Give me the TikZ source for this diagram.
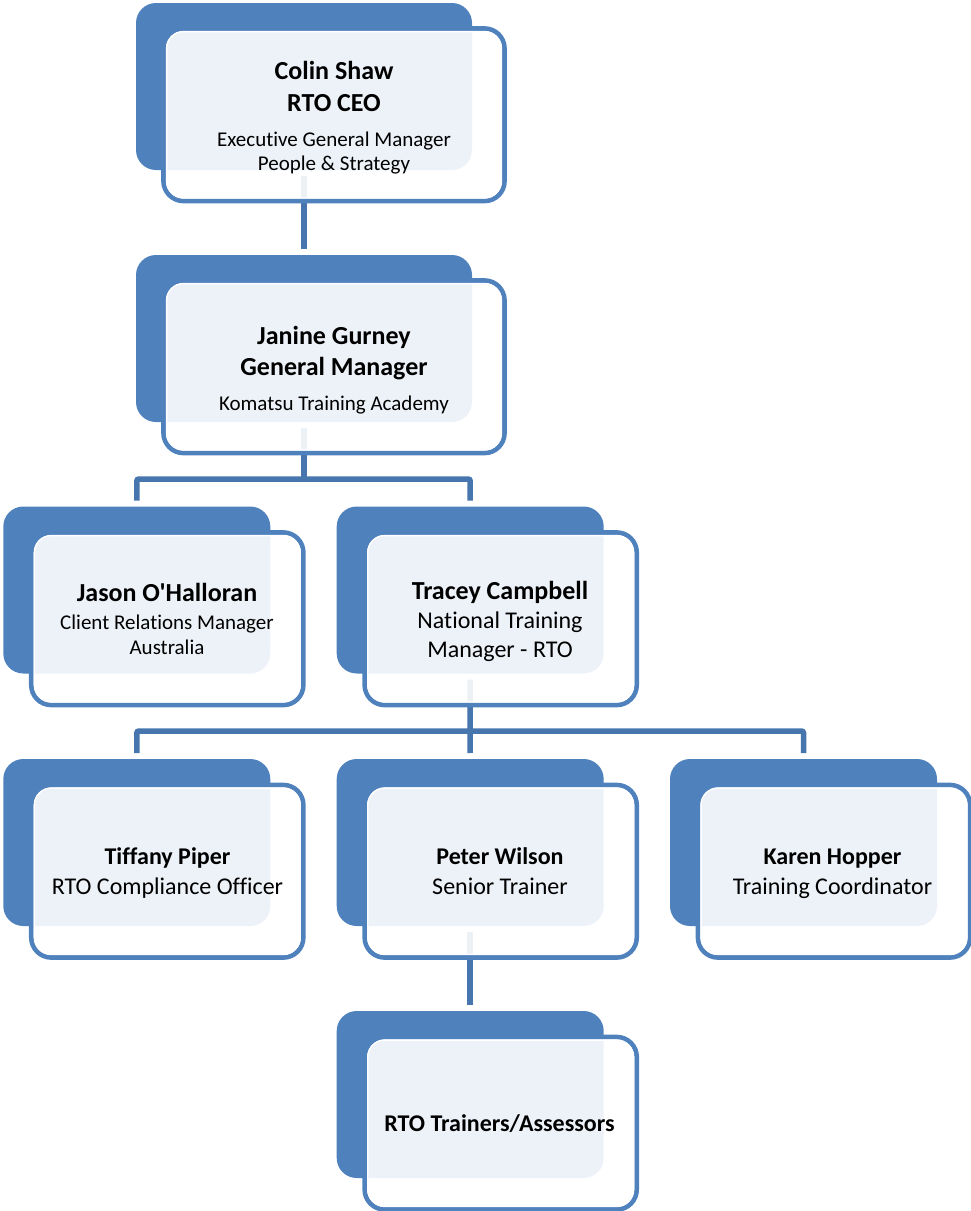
\documentclass[tikz,border=0pt]{standalone}
\usepackage{fontspec}
\setmainfont{Carlito}[Ligatures={TeXOff,NoCommon}]
\definecolor{boxblue}{RGB}{79,129,189}
\definecolor{connblue}{RGB}{71,117,173}
\tikzset{
  backbox/.style={fill=boxblue, draw=none, rounded corners=20pt, anchor=north west,
    minimum height=167pt, inner sep=0pt, outer sep=0pt},
  frontbox/.style={fill=white, fill opacity=0.9, draw=boxblue, line width=4.7pt,
    rounded corners=20pt, anchor=north west, minimum height=172.5pt, inner sep=0pt, outer sep=0pt},
  innerline/.style={draw=white, line width=1.4pt, rounded corners=17pt},
  conn/.style={draw=connblue, line width=5.5pt, rounded corners=2pt},
  nameA/.style={font=\fontsize{26}{31}\selectfont\bfseries, anchor=base, inner sep=0pt},
  nameB/.style={font=\fontsize{24}{29}\selectfont\bfseries, anchor=base, inner sep=0pt},
  roleA/.style={font=\fontsize{21}{25}\selectfont, anchor=base, inner sep=0pt},
  roleB/.style={font=\fontsize{24}{29}\selectfont, anchor=base, inner sep=0pt},
}
\begin{document}
\begin{tikzpicture}[x=1pt,y=-1pt]
\useasboundingbox (0,0) rectangle (970,1211);
% junction coordinates
\coordinate (j2) at (304,479);
\coordinate (j3) at (470,731);
% back boxes
\path
  (136,3)      node[backbox, minimum width=336pt] (b1) {}
  (136,255)    node[backbox, minimum width=336pt] (b2) {}
  (3.3,506.5)  node[backbox, minimum width=267pt] (b3) {}
  (336.7,506.5) node[backbox, minimum width=267pt] (b4) {}
  (3.3,759)    node[backbox, minimum width=267pt] (b5) {}
  (336.7,759)  node[backbox, minimum width=267pt] (b6) {}
  (670,759)    node[backbox, minimum width=267pt] (b7) {}
  (336.7,1011) node[backbox, minimum width=267pt] (b8) {};
% connectors
\draw[conn] ([yshift=-6pt]b1.south) -- ([yshift=6pt]b2.north);
\draw[conn] ([yshift=-6pt]b2.south) -- (j2);
\draw[conn] ([yshift=6pt]b3.north) |- (j2) -| ([yshift=6pt]b4.north);
\draw[conn] ([yshift=-6pt]b4.south) -- (j3);
\draw[conn] ([yshift=6pt]b5.north) |- (j3) -| ([yshift=6pt]b7.north);
\draw[conn] (j3) -- ([yshift=6pt]b6.north);
\draw[conn] ([yshift=-6pt]b6.south) -- ([yshift=6pt]b8.north);
% front boxes
\path
  (163.5,28.5)  node[frontbox, minimum width=341pt] (f1) {}
  (163.5,280.5) node[frontbox, minimum width=341pt] (f2) {}
  (31.3,532.5)  node[frontbox, minimum width=272pt] (f3) {}
  (364.7,532.5) node[frontbox, minimum width=272pt] (f4) {}
  (31.3,785)    node[frontbox, minimum width=272pt] (f5) {}
  (364.7,785)   node[frontbox, minimum width=272pt] (f6) {}
  (698,785)     node[frontbox, minimum width=272pt] (f7) {}
  (364.7,1037)  node[frontbox, minimum width=272pt] (f8) {};
\foreach \f in {f1,f2,f3,f4,f5,f6,f7,f8}{
  \draw[innerline] ([xshift=3.05pt,yshift=-3.05pt]\f.north west) rectangle ([xshift=-3.05pt,yshift=3.05pt]\f.south east);
}
% texts
\node[nameA] (t1a) at (334,79.5) {Colin Shaw};
\node[nameA] (t1b) at (334,111.7) {RTO CEO};
\node[roleA] (t1c) at (334,146.7) {Executive General Manager};
\node[roleA] (t1d) at (334,170.7) {People \& Strategy};
\node[nameA] (t2a) at (334,344.3) {Janine Gurney};
\node[nameA] (t2b) at (334,375.7) {General Manager};
\node[roleA] (t2c) at (334,410) {Komatsu Training Academy};
\node[nameA] (t3a) at (167,601.7) {Jason O'Halloran};
\node[roleA] (t3b) at (167,629.3) {Client Relations Manager};
\node[roleA] (t3c) at (167,654.3) {Australia};
\node[nameA] (t4a) at (500,599.3) {Tracey Campbell};
\node[roleB] (t4b) at (500,628.3) {National Training};
\node[roleB] (t4c) at (500,657.7) {Manager - RTO};
\node[nameB] (t5a) at (167.5,864) {Tiffany Piper};
\node[roleB] (t5b) at (167.5,894) {RTO Compliance Officer};
\node[nameB] (t6a) at (500,864) {Peter Wilson};
\node[roleB] (t6b) at (500,894) {Senior Trainer};
\node[nameB] (t7a) at (832.5,864) {Karen Hopper};
\node[roleB] (t7b) at (832.5,894) {Training Coordinator};
\node[nameB] (t8a) at (499.5,1131) {RTO Trainers/Assessors};
\end{tikzpicture}
\end{document}
